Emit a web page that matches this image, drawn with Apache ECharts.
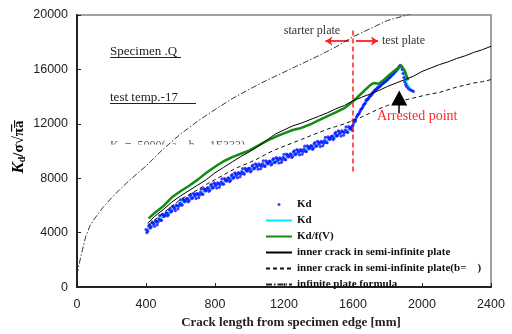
<!DOCTYPE html>
<html>
<head>
<meta charset="utf-8">
<script src="https://cdn.jsdelivr.net/npm/echarts@6/dist/echarts.min.js"></script>
<style>
  html, body { margin: 0; padding: 0; background: #fff; }
  #chart { width: 512px; height: 334px; }
</style>
</head>
<body>
<div id="chart"></div>
<script>
// measured Kd points (scatter)
const kdPoints = [
  [400,4230],[410,4110],[420,4590],[430,4420],[440,4730],[450,4470],[460,4830],[470,4790],[480,5260],[490,4910],
  [500,5300],[510,5270],[520,5460],[530,5320],[540,5780],[550,5590],[560,5890],[570,5620],[580,5980],[590,5940],
  [600,6410],[610,6030],[620,6390],[630,6340],[640,6510],[650,6350],[660,6780],[670,6560],[680,6820],[690,6510],
  [700,6830],[710,6760],[720,7200],[730,6820],[740,7180],[750,7130],[760,7290],[770,7120],[780,7550],[790,7330],
  [800,7590],[810,7280],[820,7600],[830,7520],[840,7950],[850,7560],[860,7910],[870,7850],[880,8010],[890,7840],
  [900,8270],[910,8060],[920,8330],[930,8030],[940,8360],[950,8290],[960,8710],[970,8310],[980,8650],[990,8580],
  [1000,8730],[1010,8550],[1020,8970],[1030,8740],[1040,8990],[1050,8670],[1060,8970],[1070,8870],[1080,9280],[1090,8870],
  [1100,9200],[1110,9110],[1120,9240],[1130,9040],[1140,9440],[1150,9190],[1160,9440],[1170,9120],[1180,9430],[1190,9340],
  [1200,9760],[1210,9360],[1220,9700],[1230,9630],[1240,9780],[1250,9600],[1260,10020],[1270,9790],[1280,10040],[1290,9720],
  [1300,10030],[1310,9940],[1320,10360],[1330,9960],[1340,10300],[1350,10230],[1360,10380],[1370,10200],[1380,10620],[1390,10390],
  [1400,10640],[1410,10330],[1420,10650],[1430,10570],[1440,11000],[1450,10610],[1460,10970],[1470,10920],[1480,11090],[1490,10930],
  [1500,11370],[1510,11150],[1520,11410],[1530,11100],[1540,11420],[1550,11340],[1560,11770],[1570,11380],[1580,11730],[1590,11680],
  [405,4005],[415,4485],[425,4335],[435,4775],[445,4635],[455,4880],[465,4590],[475,5010],[485,4910],[495,5350],
  [505,5185],[515,5445],[525,5225],[535,5685],[545,5515],[555,5940],[565,5790],[575,6030],[585,5740],[595,6160],
  [605,6045],[615,6455],[625,6265],[635,6505],[645,6265],[655,6700],[665,6500],[675,6890],[685,6700],[695,6900],
  [705,6575],[715,6965],[725,6835],[735,7245],[745,7055],[755,7290],[765,7040],[775,7470],[785,7270],[795,7660],
  [805,7470],[815,7670],[825,7340],[835,7720],[845,7580],[855,7980],[865,7780],[875,8010],[885,7760],[895,8190],
  [905,7995],[915,8395],[925,8215],[935,8425],[945,8105],[955,8485],[965,8335],[975,8725],[985,8515],[995,8735],
  [1005,8475],[1015,8895],[1025,8685],[1035,9065],[1045,8865],[1055,9050],[1065,8700],[1075,9060],[1085,8900],[1095,9280],
  [1105,9055],[1115,9255],[1125,8975],[1135,9375],[1145,9145],[1155,9515],[1165,9315],[1175,9505],[1185,9165],[1195,9535],
  [1205,9385],[1215,9775],[1225,9565],[1235,9785],[1245,9525],[1255,9945],[1265,9735],[1275,10115],[1285,9915],[1295,10105],
  [1305,9765],[1315,10135],[1325,9985],[1335,10375],[1345,10165],[1355,10385],[1365,10125],[1375,10545],[1385,10335],[1395,10715],
  [1405,10520],[1415,10720],[1425,10390],[1435,10770],[1445,10630],[1455,11035],[1465,10845],[1475,11085],[1485,10845],[1495,11285],
  [1505,11090],[1515,11480],[1525,11290],[1535,11490],[1545,11160],[1555,11540],[1565,11400],[1575,11800],[1585,11605],[1595,11810],
  [1598,11500],[1600,11900],[1600,12250],[1605,12100],[1610,12300],[1615,12200],[1620,12500],[1630,12700],[1640,12900],[1650,13100],
  [1660,13350],[1670,13500],[1680,13800],[1690,13900],[1700,14050],[1710,14200],[1720,14350],[1730,14500],[1740,14600],[1750,14700],
  [1760,14850],[1770,14950],[1780,15050],[1790,15150],[1800,15250],[1810,15400],[1820,15500],[1830,15650],[1840,15800],[1850,15900],
  [1860,16050],[1870,16250],[1875,16300],[1880,16200],[1885,16000],[1890,15700],[1895,15400],[1900,15100],[1905,14900],[1910,14750],
  [1920,14600],[1930,14500],[1940,14450],[1950,14380],
  [1625,12600],[1635,12750],[1645,13050],[1655,13200],[1665,13450],[1675,13700],[1685,13800],[1695,14000],[1705,14100],[1715,14300],
  [1725,14450],[1735,14550],[1745,14700],[1755,14750],[1765,14900],[1775,15000],[1785,15100],[1795,15200],[1805,15350],[1815,15450],
  [1825,15600],[1835,15700],[1845,15850],[1855,16000],[1865,16150]
];

// Kd line (cyan)
const kdLineX = [400,450,500,550,600,650,700,750,800,850,900,950,1000,1050,1100,1150,1200,1250,1300,1350,1400,1450,1500,1550,1590,1600,1620,1650,1700,1750,1800,1850,1875,1890,1900,1910,1930,1950];
const kdLineY = [4150,4700,5200,5650,6150,6500,6800,7150,7450,7750,8050,8400,8650,8900,9100,9250,9500,9750,10000,10250,10500,10800,11150,11450,11700,11900,12450,13100,14000,14650,15200,15850,16300,16000,15500,15000,14600,14400];

// Kd/f(V) (green)
const kdfX = [415,450,500,550,600,650,700,750,800,850,900,950,1000,1050,1100,1150,1200,1250,1300,1350,1400,1450,1500,1550,1600,1650,1700,1720,1750,1780,1810,1840,1880,1900,1920];
const kdfY = [5050,5450,5950,6600,7050,7450,7900,8400,8850,9250,9550,9800,10050,10400,10750,11050,11300,11550,11700,11950,12250,12550,12850,13150,13650,14250,14850,15000,14950,15250,15600,15900,16280,15900,15200];

// inner crack in semi-infinite plate (solid black)
const innerX = [410,450,500,550,600,650,700,750,800,850,900,950,1000,1050,1100,1150,1200,1250,1300,1350,1400,1450,1500,1550,1600,1650,1700,1750,1800,1850,1900,1950,2000,2050,2100,2150,2200,2250,2300,2350,2400];
const innerY = [4700,5200,5700,6250,6700,7100,7500,7900,8400,8800,9200,9600,9950,10350,10800,11250,11550,11850,12050,12300,12550,12800,13100,13350,13700,13950,14200,14450,14750,15000,15250,15500,15850,16100,16350,16550,16800,17000,17250,17450,17700];

// inner crack in semi-infinite plate (b= ) (dashed)
const innerBX = [420,450,500,550,600,650,700,750,800,850,900,950,1000,1050,1100,1150,1200,1250,1300,1350,1400,1450,1500,1550,1600,1650,1700,1750,1800,1850,1900,1950,2000,2050,2100,2150,2200,2250,2300,2350,2400];
const innerBY = [4550,4950,5450,5950,6450,6800,7150,7550,7900,8250,8600,8900,9150,9450,9800,10100,10350,10600,10850,11100,11350,11600,11800,12000,12250,12500,12800,13100,13350,13550,13750,13900,14050,14200,14300,14500,14700,14850,15000,15100,15250];

// infinite plate formula (dash-dot)
const infX = [0,10,25,50,75,100,150,200,250,300,400,500,600,700,800,900,1000,1100,1200,1300,1400,1500,1600,1700,1800,1900,2000];
const infY = [900,1550,2400,3700,4500,5000,5850,6550,7200,7800,8900,10150,11250,12200,13050,13850,14550,15200,15800,16400,17000,17650,18400,19000,19600,19950,20350];

const legendNames = ['Kd', 'Kd ', 'Kd/f(V)', 'inner crack in semi-infinite plate', 'inner crack in semi-infinite plate(b=    )', 'infinite plate formula'];

const zip = (xs, ys) => xs.map((x, i) => [x, ys[i]]);
const serif = 'Liberation Serif';

const chart = echarts.init(document.getElementById('chart'));
chart.setOption({
  animation: false,
  grid: { left: 77, right: 21, top: 15, bottom: 40.5, show: true, borderColor: '#808080', borderWidth: 1.5 },
  legend: {
    // line entries: hide the tiny marker so only the line sample shows
    data: legendNames.map((n, i) => (i === 0 ? n : { name: n, itemStyle: { opacity: 0 } })),
    orient: 'vertical',
    left: 260,
    top: 194,
    itemWidth: 26,
    itemHeight: 3,
    itemGap: 5,
    textStyle: { fontFamily: serif, fontSize: 11, fontWeight: 'bold', color: '#111' }
  },
  xAxis: {
    type: 'value', min: 0, max: 2400, interval: 400,
    name: 'Crack length from specimen edge [mm]',
    nameLocation: 'middle', nameGap: 24,
    nameTextStyle: { fontFamily: serif, fontSize: 13, fontWeight: 'bold', color: '#222', padding: [0, 0, 0, 14] },
    axisLine: { lineStyle: { color: '#222', width: 2 } },
    axisTick: { inside: true, length: 4, lineStyle: { color: '#222' } },
    axisLabel: { margin: 11, fontFamily: 'Liberation Sans', fontSize: 12.5, color: '#222', formatter: v => String(v) },
    splitLine: { show: false }
  },
  yAxis: {
    type: 'value', min: 0, max: 20000, interval: 4000,
    axisLine: { show: true, lineStyle: { color: '#222', width: 2 } },
    axisTick: { show: true, inside: true, length: 4, lineStyle: { color: '#222' } },
    axisLabel: { margin: 9, fontFamily: 'Liberation Sans', fontSize: 12.5, color: '#222', formatter: v => String(v) },
    splitLine: { show: false }
  },
  graphic: [
    { type: 'text', x: 19, y: 147, rotation: Math.PI / 2, z: 5,
      style: { text: '{k|K}{d|d}{r|/σ√π̅a̅}', align: 'center', verticalAlign: 'middle', fill: '#000',
        rich: {
          k: { fontFamily: serif, fontSize: 17, fontWeight: 'bold', fontStyle: 'italic', verticalAlign: 'middle' },
          d: { fontFamily: serif, fontSize: 10, fontWeight: 'bold', verticalAlign: 'bottom' },
          r: { fontFamily: serif, fontSize: 15, fontWeight: 'bold', verticalAlign: 'middle' }
        } } },
    { type: 'text', x: 110, y: 52, z: 5,
      style: { text: 'Specimen .Q', font: '13px "Liberation Serif"', fill: '#222', verticalAlign: 'middle' } },
    { type: 'line', z: 5, shape: { x1: 110, y1: 57.5, x2: 181, y2: 57.5 }, style: { stroke: '#222', lineWidth: 1 } },
    { type: 'text', x: 110, y: 98, z: 5,
      style: { text: 'test temp.-17', font: '13px "Liberation Serif"', fill: '#222', verticalAlign: 'middle' } },
    { type: 'line', z: 5, shape: { x1: 110, y1: 103.5, x2: 196, y2: 103.5 }, style: { stroke: '#222', lineWidth: 1 } },
    { type: 'text', x: 110, y: 140, z: 0,
      style: { text: 'K  =  5000(  a ,  b  ,  1E333)', font: '12px "Liberation Serif"', fill: '#555', verticalAlign: 'top' } },
    { type: 'rect', z: 1, shape: { x: 105, y: 144.5, width: 150, height: 12 }, style: { fill: '#fff' } },
    { type: 'text', x: 312, y: 31, z: 5,
      style: { text: 'starter plate', font: '12px "Liberation Serif"', fill: '#333', align: 'center', verticalAlign: 'middle' } },
    { type: 'text', x: 382, y: 41, z: 5,
      style: { text: 'test plate', font: '12px "Liberation Serif"', fill: '#333', verticalAlign: 'middle' } },
    { type: 'text', x: 377, y: 116, z: 5,
      style: { text: 'Arrested point', font: '14px "Liberation Serif"', fill: '#ff2a2a', verticalAlign: 'middle' } }
  ],
  series: [
    { name: 'Kd ', type: 'line', data: zip(kdLineX, kdLineY), symbol: 'none',
      lineStyle: { color: '#00e8ff', width: 2 }, itemStyle: { color: '#00e8ff' }, z: 2 },
    { name: 'Kd', type: 'scatter', data: kdPoints, symbol: 'circle', symbolSize: 3.2,
      itemStyle: { color: '#1010ff' }, z: 3 },
    { name: 'Kd/f(V)', type: 'line', data: zip(kdfX, kdfY), symbol: 'none',
      lineStyle: { color: '#138c13', width: 2.5 }, itemStyle: { color: '#138c13' }, z: 4 },
    { name: 'inner crack in semi-infinite plate', type: 'line', data: zip(innerX, innerY), symbol: 'none',
      lineStyle: { color: '#000', width: 1 }, itemStyle: { color: '#000' }, z: 5 },
    { name: 'inner crack in semi-infinite plate(b=    )', type: 'line', data: zip(innerBX, innerBY), symbol: 'none',
      lineStyle: { color: '#111', width: 1, type: [4, 3] }, itemStyle: { color: '#111' }, z: 5 },
    { name: 'infinite plate formula', type: 'line', data: zip(infX, infY), symbol: 'none',
      lineStyle: { color: '#222', width: 0.9, type: [6, 2, 1.5, 2] }, itemStyle: { color: '#222' }, z: 5 },
    { name: 'boundary', type: 'line', data: [], z: 6,
      markLine: { silent: true, symbol: ['none', 'none'], label: { show: false },
        lineStyle: { color: '#ff2020', width: 1.5, type: [5, 3] },
        data: [[{ coord: [1600, 8500] }, { coord: [1600, 19050] }]] } },
    { name: 'plate arrows', type: 'line', data: [], z: 6,
      markLine: { silent: true, symbol: ['none', 'arrow'], symbolSize: 7, label: { show: false },
        lineStyle: { color: '#ff2020', width: 1.8, type: 'solid' },
        data: [
          [{ coord: [1577, 18080] }, { coord: [1440, 18080] }],
          [{ coord: [1617, 18080] }, { coord: [1745, 18080] }]
        ] } },
    { name: 'arrest arrow', type: 'line', data: [], z: 6,
      markLine: { silent: true, symbol: ['none', 'triangle'], symbolSize: [16, 15], label: { show: false },
        lineStyle: { color: '#000', width: 1.5, type: 'solid' },
        data: [[{ coord: [1868, 12800] }, { coord: [1868, 13900] }]] } }
  ]
});
</script>
</body>
</html>
